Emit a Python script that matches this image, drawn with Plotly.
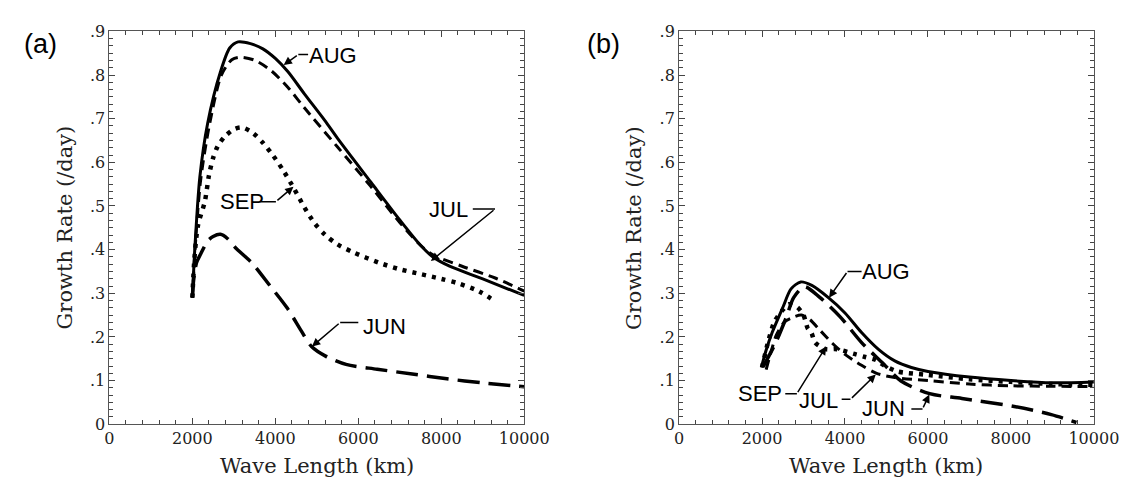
import plotly.graph_objects as go

# ---------------- data: panel (a) ----------------
a_aug_x = [2000, 2040, 2070, 2180, 2370, 2680, 2900, 3100, 3400, 3700, 4000, 4300, 4700, 5200, 5500, 6300, 7000, 7500, 7800, 8200, 9000, 10000]
a_aug_y = [0.29, 0.37, 0.42, 0.566, 0.69, 0.808, 0.862, 0.876, 0.872, 0.86, 0.838, 0.808, 0.757, 0.695, 0.655, 0.555, 0.468, 0.41, 0.383, 0.362, 0.333, 0.295]

a_jul_x = [2000, 2040, 2100, 2200, 2400, 2700, 2950, 3150, 3500, 3900, 4300, 4700, 5500, 6300, 7000, 7500, 7800, 8500, 9300, 10000]
a_jul_y = [0.29, 0.36, 0.45, 0.56, 0.68, 0.80, 0.835, 0.841, 0.834, 0.81, 0.772, 0.725, 0.635, 0.545, 0.462, 0.41, 0.388, 0.362, 0.335, 0.305]

a_sep_x = [2000, 2050, 2136, 2300, 2400, 2500, 2606, 2770, 3005, 3192, 3450, 3700, 3950, 4200, 4450, 4700, 4950, 5200, 5500, 5900, 6500, 7000, 7500, 8000, 8400, 8900, 9320]
a_sep_y = [0.29, 0.38, 0.456, 0.51, 0.57, 0.61, 0.636, 0.658, 0.676, 0.68, 0.668, 0.645, 0.615, 0.58, 0.54, 0.497, 0.46, 0.434, 0.412, 0.393, 0.37, 0.355, 0.344, 0.333, 0.323, 0.305, 0.28]

a_jun_x = [2000, 2030, 2100, 2200, 2371, 2500, 2676, 2850, 3033, 3450, 3873, 4287, 4625, 4873, 5211, 5704, 6455, 7300, 8136, 8967, 10000]
a_jun_y = [0.29, 0.33, 0.37, 0.39, 0.42, 0.43, 0.435, 0.425, 0.405, 0.368, 0.317, 0.266, 0.214, 0.178, 0.156, 0.137, 0.126, 0.115, 0.104, 0.095, 0.086]

# ---------------- data: panel (b) ----------------
b_aug_x = [1985, 2100, 2244, 2503, 2700, 2934, 3200, 3600, 4000, 4400, 4800, 5200, 5600, 6000, 7000, 8000, 9000, 10000]
b_aug_y = [0.13, 0.17, 0.21, 0.268, 0.31, 0.326, 0.318, 0.29, 0.255, 0.21, 0.172, 0.145, 0.13, 0.121, 0.108, 0.10, 0.095, 0.097]

b_jul_x = [2100, 2200, 2350, 2550, 2750, 2950, 3150, 3400, 3700, 4000, 4400, 4750, 5200, 6000, 7000, 8000, 9000, 10000]
b_jul_y = [0.125, 0.16, 0.205, 0.235, 0.245, 0.25, 0.24, 0.215, 0.185, 0.16, 0.135, 0.117, 0.107, 0.10, 0.092, 0.088, 0.087, 0.086]

b_sep_x = [2000, 2150, 2300, 2500, 2650, 2850, 3000, 3100, 3193, 3280, 3538, 3797, 4229, 4488, 4747, 4920, 5264, 6000, 7000, 8000, 9000, 10000]
b_sep_y = [0.13, 0.19, 0.235, 0.262, 0.275, 0.268, 0.25, 0.22, 0.209, 0.187, 0.172, 0.172, 0.161, 0.154, 0.147, 0.136, 0.121, 0.113, 0.103, 0.097, 0.092, 0.09]

b_jun_x = [2028, 2330, 2590, 2762, 3020, 3400, 3884, 4401, 4920, 5350, 6041, 6818, 8112, 8975, 9580]
b_jun_y = [0.132, 0.187, 0.246, 0.29, 0.315, 0.29, 0.246, 0.187, 0.139, 0.099, 0.07, 0.059, 0.04, 0.022, 0.004]

x_tick_vals = [0, 2000, 4000, 6000, 8000, 10000]
x_tick_text = ["0", "2000", "4000", "6000", "8000", "10000"]
y_tick_vals = [0, 0.1, 0.2, 0.3, 0.4, 0.5, 0.6, 0.7, 0.8, 0.9]
y_tick_text = ["0", ".1", ".2", ".3", ".4", ".5", ".6", ".7", ".8", ".9"]

styles = {
    "AUG": dict(color="black", width=3, dash="solid"),
    "JUL": dict(color="black", width=3, dash="10px,6px"),
    "SEP": dict(color="black", width=4.5, dash="4px,6px"),
    "JUN": dict(color="black", width=3.5, dash="22px,9px"),
}

fig = go.Figure()
series = [
    ("x", "y", "JUN", a_jun_x, a_jun_y), ("x", "y", "SEP", a_sep_x, a_sep_y),
    ("x", "y", "JUL", a_jul_x, a_jul_y), ("x", "y", "AUG", a_aug_x, a_aug_y),
    ("x2", "y2", "JUN", b_jun_x, b_jun_y), ("x2", "y2", "SEP", b_sep_x, b_sep_y),
    ("x2", "y2", "JUL", b_jul_x, b_jul_y), ("x2", "y2", "AUG", b_aug_x, b_aug_y),
]
for xa, ya, name, xs, ys in series:
    fig.add_trace(go.Scatter(x=xs, y=ys, xaxis=xa, yaxis=ya, mode="lines", name=name,
                             line=dict(shape="spline", smoothing=0.8, **styles[name]),
                             showlegend=False, hoverinfo="skip"))

tickfont = dict(family="DejaVu Serif", size=16, color="#222")
axis_common = dict(showgrid=False, zeroline=False, showline=True, linecolor="#555", linewidth=1,
                   mirror="ticks", ticks="inside", tickcolor="#444", tickfont=tickfont)

def xaxis(domain, anchor):
    return dict(domain=domain, anchor=anchor, range=[0, 10000], tickmode="array",
                tickvals=x_tick_vals, ticktext=x_tick_text, ticklen=6,
                minor=dict(dtick=400, tick0=0, ticks="inside", ticklen=4, tickcolor="#444"),
                **axis_common)

def yaxis(domain, anchor):
    return dict(domain=domain, anchor=anchor, range=[0, 0.9], tickmode="array",
                tickvals=y_tick_vals, ticktext=y_tick_text, ticklen=6,
                minor=dict(dtick=0.1 / 6, tick0=0, ticks="inside", ticklen=4, tickcolor="#444"),
                **axis_common)

ydom = [56 / 480, 465 / 480]
fig.update_layout(
    width=1144, height=480, margin=dict(l=0, r=0, t=0, b=0),
    paper_bgcolor="white", plot_bgcolor="white",
    xaxis=xaxis([99 / 1144, 525 / 1144], "y"),
    yaxis=yaxis(ydom, "x"),
    xaxis2=xaxis([684 / 1144, 1110 / 1144], "y2"),
    yaxis2=yaxis(ydom, "x2"),
)

labfont = dict(family="Liberation Sans", size=22, color="black")
titlefont = dict(family="DejaVu Serif", size=21, color="#222")

ann = []
# axis titles
for cx in [312 / 1144, 897 / 1144]:
    ann.append(dict(xref="paper", yref="paper", x=cx, y=13 / 480, text="Wave Length (km)",
                    showarrow=False, font=titlefont, xanchor="center", yanchor="middle"))
for cx in [53 / 1144, 638 / 1144]:
    ann.append(dict(xref="paper", yref="paper", x=cx, y=1 - 219.5 / 480, text="Growth Rate (/day)",
                    textangle=-90, showarrow=False, font=titlefont, xanchor="center", yanchor="middle"))
# panel labels
for cx, t in [(28 / 1144, "(a)"), (606 / 1144, "(b)")]:
    ann.append(dict(xref="paper", yref="paper", x=cx, y=1 - 28 / 480, text=t, showarrow=False,
                    font=dict(family="Liberation Sans", size=27, color="black"),
                    xanchor="center", yanchor="middle"))

# curve labels: (axis suffix, text, text x, text y, corner (x,y), tip (x,y), text-edge (x,y))
labels = [
    ("", "AUG", 5400, 0.845, (4554, 0.847), (4200, 0.823), (4790, 0.847)),
    ("", "SEP", 3192, 0.51, (4014, 0.51), (4437, 0.544), (3620, 0.51)),
    ("", "JUL", 8169, 0.493, (9296, 0.493), (7750, 0.374), (8760, 0.493)),
    ("", "JUN", 6620, 0.224, (5563, 0.233), (4883, 0.178), (6000, 0.233)),
    ("2", "AUG", 4977, 0.35, (4061, 0.35), (3615, 0.29), (4400, 0.35)),
    ("2", "SEP", 1948, 0.07, (2840, 0.07), (3545, 0.178), (2560, 0.07)),
    ("2", "JUL", 3357, 0.055, (4131, 0.057), (4742, 0.114), (3920, 0.057)),
    ("2", "JUN", 4930, 0.035, (5869, 0.035), (6033, 0.068), (5600, 0.035)),
]
shapes = []
for suf, txt, tx, ty, corner, tip, edge in labels:
    xr, yr = "x" + suf, "y" + suf
    ann.append(dict(xref=xr, yref=yr, x=tx, y=ty, text=txt, showarrow=False, font=labfont,
                    xanchor="center", yanchor="middle"))
    shapes.append(dict(type="line", xref=xr, yref=yr, x0=edge[0], y0=edge[1], x1=corner[0], y1=corner[1],
                       line=dict(color="black", width=1.5)))
    ann.append(dict(xref=xr, yref=yr, x=tip[0], y=tip[1], ax=corner[0], ay=corner[1],
                    axref=xr, ayref=yr, text="", showarrow=True, arrowhead=2, arrowsize=1.1,
                    arrowwidth=1.5, arrowcolor="black", standoff=0))

fig.update_layout(annotations=ann, shapes=shapes)
fig.write_html("out.html")
